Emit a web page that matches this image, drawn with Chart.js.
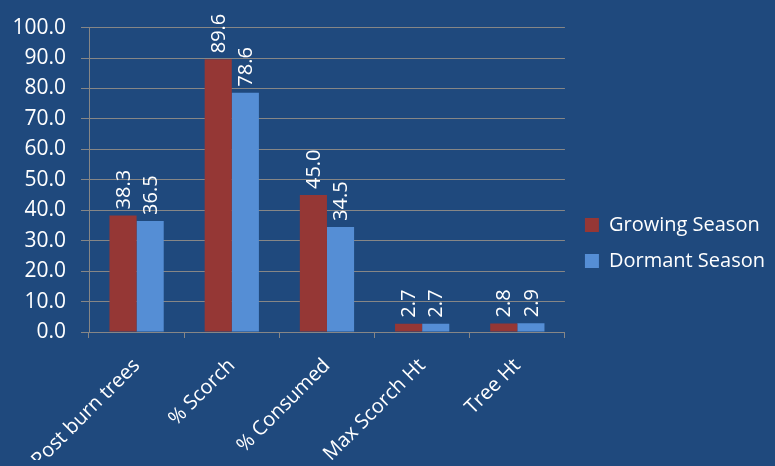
<!DOCTYPE html>
<html>
<head>
<meta charset="utf-8">
<script src="https://cdn.jsdelivr.net/npm/chart.js@4/dist/chart.umd.min.js"></script>
<style>
  html, body { margin: 0; padding: 0; background: #1F497D; }
  #wrap { width: 775px; height: 466px; }
</style>
</head>
<body>
<div id="wrap"><canvas id="myChart"></canvas></div>
<script>
// data
const categories = ['Post burn trees', '% Scorch', '% Consumed', 'Max Scorch Ht', 'Tree Ht'];
const growing = [38.3, 89.6, 45.0, 2.7, 2.8];
const dormant = [36.5, 78.6, 34.5, 2.7, 2.9];
const seriesNames = ['Growing Season', 'Dormant Season'];

const fontName = "'Open Sans', 'Liberation Sans', sans-serif";

// value labels above the bars, turned on their side
const barLabels = {
    id: 'barLabels',
    afterDatasetsDraw(chart) {
        const ctx = chart.ctx;
        ctx.save();
        ctx.fillStyle = '#ffffff';
        ctx.font = '20px ' + fontName;
        ctx.textAlign = 'left';
        ctx.textBaseline = 'middle';
        chart.data.datasets.forEach(function(ds, i) {
            chart.getDatasetMeta(i).data.forEach(function(bar, j) {
                ctx.save();
                ctx.translate(bar.x, bar.y - 6);
                ctx.rotate(-Math.PI / 2);
                ctx.fillText(ds.data[j].toFixed(1), 0, 1);
                ctx.restore();
            });
        });
        ctx.restore();
    }
};

const ctx = document.getElementById('myChart').getContext('2d');
const myChart = new Chart(ctx, {
    type: 'bar',
    data: {
        labels: categories,
        datasets: [{
            label: seriesNames[0],
            data: growing,
            backgroundColor: '#953735',
            borderWidth: 0
        }, {
            label: seriesNames[1],
            data: dormant,
            backgroundColor: '#558ED5',
            borderWidth: 0
        }]
    },
    options: {
        responsive: true,
        maintainAspectRatio: false,
        animation: false,
        categoryPercentage: 0.57,
        barPercentage: 1.0,
        layout: { padding: { top: 26, right: 0, bottom: 6, left: 0 } },
        plugins: {
            tooltip: { enabled: false },
            legend: {
                position: 'right',
                fullSize: true,
                maxWidth: 260,
                labels: {
                    color: '#ffffff',
                    font: { family: fontName, size: 20 },
                    boxWidth: 14,
                    boxHeight: 14,
                    padding: 16
                }
            }
        },
        scales: {
            x: {
                grid: {
                    offset: true,
                    drawOnChartArea: false,
                    drawTicks: true,
                    tickLength: 6,
                    color: '#868686'
                },
                border: { color: '#868686', width: 1 },
                ticks: {
                    color: '#ffffff',
                    font: { family: fontName, size: 20 },
                    minRotation: 45,
                    maxRotation: 45,
                    padding: 16
                },
                afterFit: function(scale) { scale.height = 128; }
            },
            y: {
                min: 0,
                max: 100,
                ticks: {
                    stepSize: 10,
                    color: '#ffffff',
                    font: { family: fontName, size: 21 },
                    padding: 15,
                    callback: function(v) { return v.toFixed(1); }
                },
                grid: { color: '#868686', tickLength: 8 },
                border: { color: '#868686', width: 1 },
                afterFit: function(scale) { scale.width = 89; }
            },
            gap: {
                type: 'linear',
                position: 'right',
                display: true,
                grid: { display: false },
                border: { display: false },
                ticks: { display: false },
                afterFit: function(scale) { scale.width = 4; }
            }
        }
    },
    plugins: [barLabels]
});
</script>
</body>
</html>
